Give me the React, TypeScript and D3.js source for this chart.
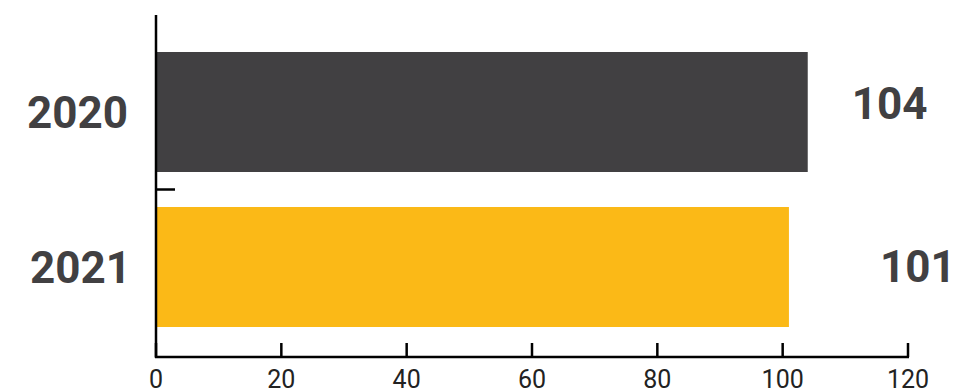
import React from "react";
import * as d3 from "d3";

const years = ["2020", "2021"];
const counts = [104, 101];
const barColors = ["#414042", "#FBB917"];
const xTicks = [0, 20, 40, 60, 80, 100, 120];

const W = 954;
const H = 389;
const axisY = 357;
const axisX = 156;

export default function App() {
  const x = d3.scaleLinear().domain([0, 120]).range([axisX, 908]);
  const y = d3
    .scaleBand<string>()
    .domain(years)
    .range([22, axisY])
    .paddingInner(35 / 155)
    .paddingOuter(30 / 155);

  const step = y.step();
  const bw = y.bandwidth();
  const sepY = (y(years[1]) as number) - (step - bw) / 2;

  // value labels sit in the right margin, nudged per row
  const valueDx = [44, 91];
  const valueDy = [-9, -1];

  return (
    <svg
      width={W}
      height={H}
      style={{ position: "absolute", left: 0, top: 0, background: "#fff" }}
      fontFamily="Roboto, 'Noto Sans', sans-serif"
    >
      {years.map((yr, i) => (
        <rect
          key={yr}
          x={x(0)}
          y={y(yr)}
          width={x(counts[i]) - x(0)}
          height={bw}
          fill={barColors[i]}
        />
      ))}

      {/* category labels */}
      {years.map((yr, i) => (
        <text
          key={"c" + yr}
          x={i === 0 ? 128 : 131}
          y={(y(yr) as number) + bw / 2}
          dy="0.355em"
          textAnchor="end"
          fontSize={44}
          fontWeight={700}
          fill="#414042"
        >
          {yr}
        </text>
      ))}

      {/* value labels */}
      {years.map((yr, i) => (
        <text
          key={"v" + yr}
          x={x(counts[i]) + valueDx[i]}
          y={(y(yr) as number) + bw / 2 + valueDy[i]}
          dy="0.355em"
          textAnchor="start"
          fontSize={44}
          fontWeight={700}
          fill="#414042"
        >
          {counts[i]}
        </text>
      ))}

      {/* y axis */}
      <line x1={axisX} x2={axisX} y1={15} y2={axisY + 1} stroke="#000" strokeWidth={2.5} />
      <line x1={axisX} x2={175} y1={sepY} y2={sepY} stroke="#000" strokeWidth={2.5} />

      {/* x axis */}
      <line x1={axisX - 1} x2={x(120) + 1} y1={axisY} y2={axisY} stroke="#000" strokeWidth={2.5} />
      {xTicks.map((t) => (
        <g key={t}>
          <line x1={x(t)} x2={x(t)} y1={axisY} y2={axisY - 14} stroke="#000" strokeWidth={2.5} />
          <text
            x={x(t)}
            y={388}
            textAnchor="middle"
            fontSize={25}
            fill="#222"
          >
            {t}
          </text>
        </g>
      ))}
    </svg>
  );
}
